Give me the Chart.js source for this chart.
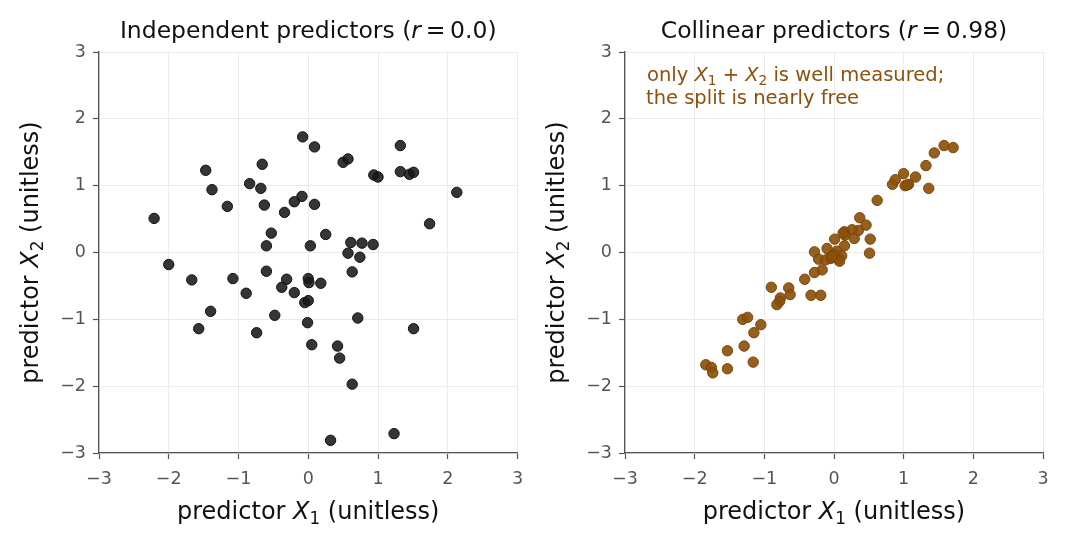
<!DOCTYPE html>
<html>
<head>
<meta charset="utf-8">
<script src="https://cdn.jsdelivr.net/npm/chart.js@4.4.1/dist/chart.umd.min.js"></script>
<style>
  html, body { margin: 0; padding: 0; background: #fff; }
  #wrap { position: relative; width: 1068px; height: 543px; }
  .panel { position: absolute; top: 0; width: 534px; height: 543px; }
</style>
</head>
<body>
<div id="wrap">
  <div class="panel" style="left:0"><canvas id="indep"></canvas></div>
  <div class="panel" style="left:534px"><canvas id="coll"></canvas></div>
</div>
<script>
// data
const indepX1 = [-0.08, 0.09, 1.32, 0.50, 0.57, -1.47, -0.66, 0.94, 1.00, 1.32, 1.45, 1.51, 2.13, -1.38, -0.84,
  -0.68, -1.16, -0.63, -0.09, -0.20, 0.09, -0.34, -2.21, 1.74, -0.53, 0.25, -0.60, 0.03, 0.61, 0.77,
  0.93, 0.57, 0.74, -2.00, -1.67, -1.08, -0.60, -0.31, 0.00, 0.01, 0.18, 0.63, -0.38, -0.89, -0.20,
  -0.05, 0.00, -1.40, -1.57, -0.74, -0.48, -0.01, 0.71, 1.51, 0.05, 0.42, 0.45, 0.63, 1.23, 0.32];
const indepX2 = [1.73, 1.58, 1.60, 1.35, 1.40, 1.23, 1.32, 1.16, 1.13, 1.21, 1.17, 1.20, 0.90, 0.94, 1.03,
  0.96, 0.69, 0.71, 0.84, 0.76, 0.72, 0.60, 0.51, 0.43, 0.29, 0.27, 0.10, 0.10, 0.15, 0.14,
  0.12, -0.01, -0.07, -0.18, -0.41, -0.39, -0.28, -0.40, -0.39, -0.45, -0.46, -0.29, -0.52, -0.61, -0.60,
  -0.75, -0.72, -0.88, -1.14, -1.20, -0.94, -1.05, -0.98, -1.14, -1.38, -1.40, -1.58, -1.97, -2.71, -2.81];

const collX1 = [1.58, 1.71, 1.44, 1.32, 1.00, 1.17, 0.84, 0.88, 1.02, 1.07, 1.05, 1.36, 0.62, 0.37, 0.46,
  0.35, 0.26, 0.15, 0.16, 0.13, 0.29, 0.52, 0.01, 0.15, -0.10, -0.28, 0.51, -0.22, 0.04, -0.05,
  0.07, 0.11, 0.00, -0.12, 0.08, -0.03, -0.17, -0.28, -0.42, -0.90, -0.65, -0.63, -0.33, -0.19, -0.77,
  -0.78, -0.82, -1.31, -1.24, -1.05, -1.15, -1.29, -1.53, -1.16, -1.84, -1.76, -1.74, -1.53];
const collX2 = [1.60, 1.57, 1.49, 1.30, 1.18, 1.13, 1.02, 1.09, 1.00, 1.02, 1.01, 0.96, 0.78, 0.52, 0.41,
  0.33, 0.34, 0.31, 0.26, 0.29, 0.21, 0.20, 0.20, 0.10, 0.06, 0.01, -0.01, -0.10, 0.02, -0.09,
  -0.10, -0.05, -0.03, -0.11, -0.13, -0.06, -0.26, -0.30, -0.40, -0.52, -0.53, -0.63, -0.64, -0.64, -0.68,
  -0.73, -0.78, -1.00, -0.97, -1.08, -1.20, -1.40, -1.47, -1.64, -1.68, -1.72, -1.80, -1.74];

const axisTicks = [-3, -2, -1, 0, 1, 2, 3];
const titles = [
  [{ t: 'Independent predictors (' }, { t: 'r', it: true }, { t: '\u2009=\u20090.0)' }],
  [{ t: 'Collinear predictors (' }, { t: 'r', it: true }, { t: '\u2009=\u20090.98)' }]
];
const xLabel = [{ t: 'predictor ' }, { t: 'X', it: true }, { t: '1', sub: true }, { t: ' (unitless)' }];
const yLabel = [{ t: 'predictor ' }, { t: 'X', it: true }, { t: '2', sub: true }, { t: ' (unitless)' }];
const noteLines = [
  [{ t: 'only ' }, { t: 'X', it: true }, { t: '1', sub: true }, { t: ' + ' }, { t: 'X', it: true }, { t: '2', sub: true }, { t: ' is well measured;' }],
  [{ t: 'the split is nearly free' }]
];

const FONT = "'DejaVu Sans', sans-serif";

// draw a line of mixed italic / subscript text
function drawRich(ctx, segs, x, y, size, color, align) {
  let total = 0;
  const fontOf = s => (s.it ? 'italic ' : '') + (s.sub ? size * 0.7 : size) + 'px ' + FONT;
  segs.forEach(s => { ctx.font = fontOf(s); s.w = ctx.measureText(s.t).width; total += s.w; });
  let cx = align === 'center' ? x - total / 2 : x;
  ctx.fillStyle = color;
  ctx.textAlign = 'left';
  ctx.textBaseline = 'alphabetic';
  segs.forEach(s => {
    ctx.font = fontOf(s);
    ctx.fillText(s.t, cx, y + (s.sub ? size * 0.2 : 0));
    cx += s.w;
  });
}

const richText = {
  id: 'richText',
  afterDraw(chart, args, opts) {
    const { ctx, chartArea: a } = chart;
    const midX = (a.left + a.right) / 2;
    const midY = (a.top + a.bottom) / 2;
    ctx.save();
    drawRich(ctx, opts.title, midX, 38, 23.5, '#111', 'center');
    drawRich(ctx, xLabel, midX, 519, 24, '#111', 'center');
    ctx.translate(a.left - 61, midY);
    ctx.rotate(-Math.PI / 2);
    drawRich(ctx, yLabel, 0, 0, 24, '#111', 'center');
    ctx.restore();
    if (opts.note) {
      ctx.save();
      drawRich(ctx, noteLines[0], a.left + 22, 81, 19.5, '#8c510a', 'left');
      drawRich(ctx, noteLines[1], a.left + 21, 104, 19.5, '#8c510a', 'left');
      ctx.restore();
    }
  }
};

function axis(extra) {
  return Object.assign({
    type: 'linear',
    min: -3,
    max: 3,
    afterBuildTicks: s => { s.ticks = axisTicks.map(v => ({ value: v })); },
    grid: { color: '#ebebeb', lineWidth: 1, tickColor: '#555', tickLength: 6, tickWidth: 1.2 },
    border: { color: '#555', width: 1.3 },
    ticks: {
      color: '#555',
      font: { family: FONT, size: 17.5 },
      callback: v => String(v).replace('-', '\u2212')
    }
  }, extra);
}

function makeChart(id, xs, ys, fill, edge, title, plotLeft, padRight, note) {
  const pts = xs.map((x, i) => ({ x: x, y: ys[i] }));
  return new Chart(document.getElementById(id), {
    type: 'scatter',
    data: {
      datasets: [{
        data: pts,
        backgroundColor: fill,
        borderColor: edge,
        borderWidth: 1,
        pointRadius: 5.2,
        pointHoverRadius: 5.2
      }]
    },
    options: {
      responsive: true,
      maintainAspectRatio: false,
      animation: false,
      events: [],
      layout: { padding: { top: 52, right: padRight, left: 0, bottom: 0 } },
      scales: {
        x: axis({ afterFit: s => { s.height = 90; }, ticks: Object.assign(axis({}).ticks, { padding: 10 }) }),
        y: axis({ afterFit: s => { s.width = plotLeft; }, ticks: Object.assign(axis({}).ticks, { padding: 7 }) })
      },
      plugins: {
        legend: { display: false },
        tooltip: { enabled: false },
        richText: { title: title, note: note }
      }
    },
    plugins: [richText]
  });
}

makeChart('indep', indepX1, indepX2, 'rgba(25,25,25,0.88)', '#111', titles[0], 99, 16.5, false);
makeChart('coll', collX1, collX2, 'rgba(140,81,10,0.92)', '#7a4508', titles[1], 91, 25, true);
</script>
</body>
</html>
